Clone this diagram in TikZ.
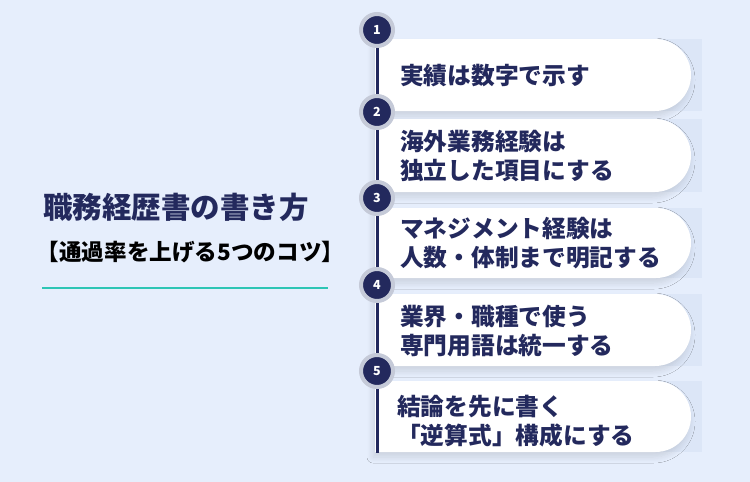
\documentclass[tikz,border=0pt]{standalone}
\usepackage{fontspec}
\setmainfont{Noto Sans CJK JP}
\usepackage{tikz}
\usetikzlibrary{calc, shadows.blur}
\definecolor{bgblue}{HTML}{E6EEFC}
\definecolor{navy}{HTML}{23295D}
\definecolor{ringgray}{HTML}{C5CAD8}
\definecolor{shadeblue}{HTML}{DCE6F7}
\definecolor{teal}{HTML}{2DC5B5}
\tikzset{
    num/.style={circle, fill=navy, draw=ringgray, line width=4pt,
        minimum size=32pt, inner sep=0pt, text=white,
        font=\fontsize{12.5}{12.5}\selectfont\bfseries},
    tip/.style={anchor=west, align=left, text=navy, inner sep=0pt,
        font=\fontsize{23.7}{29}\selectfont\bfseries},
}
\newcommand{\card}[2]{%
    \fill[shadeblue] (600, #1) rectangle (702, #2);
    \path[fill=white, blur shadow={shadow xshift=-2pt, shadow yshift=-5pt,
        shadow blur steps=8, shadow blur radius=6pt, shadow opacity=12}]
        (375, #1) -- ($(691, #1) - ({(#2-#1)/2}, 0)$)
        arc[start angle=-90, end angle=90, radius={(#2-#1)/2}]
        -- (375, #2) -- cycle;
}

\begin{document}
\begin{tikzpicture}[x=1pt, y=-1pt]

% background
\useasboundingbox[fill=bgblue] (0, 0) rectangle (750, 482);

% heading
\node[text=navy, font=\fontsize{29.5}{29.5}\selectfont\bfseries] (title)
    at (176, 207) {職務経歴書の書き方};
\node[font=\fontsize{22.6}{22.6}\selectfont\bfseries] (subtitle)
    at (190.5, 252) {【通過率を上げる5つのコツ】};
\draw[teal, line width=2pt] (42, 288) -- (328, 288);

% cards
\card{39}{111}
\card{119}{192}
\card{208}{278}
\card{294}{366}
\card{381}{452}

% card texts
\node[tip] (t1) at (400, 76) {実績は数字で示す};
\node[tip] (t2) at (400, 156) {海外業務経験は\\独立した項目にする};
\node[tip] (t3) at (400, 243) {マネジメント経験は\\人数・体制まで明記する};
\node[tip] (t4) at (400, 331) {業界・職種で使う\\専門用語は統一する};
\node[tip] (t5) at (397, 421) {結論を先に書く\\「逆算式」構成にする};

% timeline
\coordinate (end) at (377, 453);
\draw[navy, line width=3pt] (377, 30) -- (end);

\node[num] (n1) at (377, 30) {1};
\node[num] (n2) at (377, 112) {2};
\node[num] (n3) at (377, 198) {3};
\node[num] (n4) at (377, 285) {4};
\node[num] (n5) at (377, 371) {5};

\end{tikzpicture}
\end{document}
